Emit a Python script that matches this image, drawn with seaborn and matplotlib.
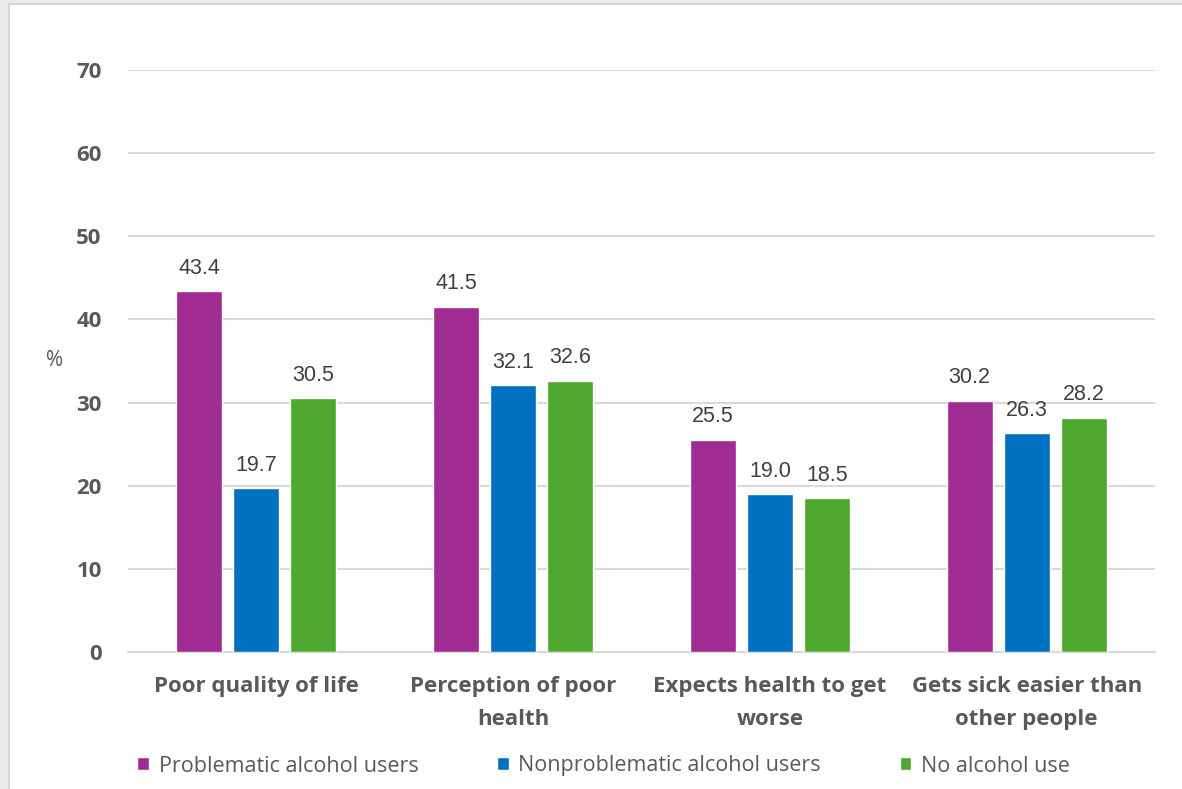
import matplotlib
matplotlib.use("Agg")
import matplotlib.pyplot as plt
import seaborn as sns
import pandas as pd
from matplotlib.patches import Rectangle

categories = ["Poor quality of life", "Perception of poor\nhealth",
              "Expects health to get\nworse", "Gets sick easier than\nother people"]
groups = ["Problematic alcohol users", "Nonproblematic alcohol users", "No alcohol use"]
problematic = [43.4, 41.5, 25.5, 30.2]
nonproblematic = [19.7, 32.1, 19.0, 26.3]
no_alcohol = [30.5, 32.6, 18.5, 28.2]
yticks = [0, 10, 20, 30, 40, 50, 60, 70]

colors = ["#A02B93", "#0070C0", "#4EA72E"]
text_gray = "#595959"
grid_gray = "#D9D9D9"

rows = []
for g, vals in zip(groups, [problematic, nonproblematic, no_alcohol]):
    for c, v in zip(categories, vals):
        rows.append({"category": c, "group": g, "value": v})
df = pd.DataFrame(rows)

sns.set_theme(style="white")
plt.rcParams["font.family"] = ["Open Sans", "DejaVu Sans"]

W, H = 1182, 789
fig = plt.figure(figsize=(W / 100, H / 100), dpi=100, facecolor="#EBEBEB")
fig.patches.append(Rectangle((9 / W, -0.05), 1.1, 1.05 - 4 / H, transform=fig.transFigure,
                             facecolor="white", edgecolor="#D6D6D6", linewidth=1.5, zorder=-5))

ax = fig.add_axes([128 / W, 1 - 652 / H, (1155 - 128) / W, (652 - 70) / H])
ax.set_facecolor("none")

sns.barplot(data=df, x="category", y="value", hue="group", hue_order=groups,
            palette=colors, width=0.666, gap=0.19, ax=ax, saturation=1,
            errorbar=None, zorder=3)

for cont in ax.containers:
    ax.bar_label(cont, fmt="%.1f", padding=9, fontsize=15.5, color="#404040",
                 family=["Liberation Sans", "DejaVu Sans"])

ax.set_ylim(0, 70)
ax.set_yticks(yticks)
ax.set_xlim(-0.5, 3.5)
ax.yaxis.grid(True, color=grid_gray, linewidth=1.5, zorder=0)
ax.set_axisbelow(True)
for s in ["top", "right", "left"]:
    ax.spines[s].set_visible(False)
ax.spines["bottom"].set_color(grid_gray)
ax.spines["bottom"].set_linewidth(1.5)

ax.tick_params(axis="y", length=0, pad=19, labelsize=16, labelcolor=text_gray)
ax.tick_params(axis="x", length=0, pad=17, labelsize=16, labelcolor=text_gray)
for lbl in ax.get_yticklabels() + ax.get_xticklabels():
    lbl.set_fontweight("bold")
for lbl in ax.get_xticklabels():
    lbl.set_linespacing(1.8)

ax.set_xlabel("")
ax.set_ylabel("%", rotation=0, fontsize=15, color=text_gray, va="center", ha="center")
ax.yaxis.set_label_coords(-(128 - 55) / 1027, (652 - 361) / 582)

leg = ax.legend(ncol=3, loc="center left", mode="expand",
                bbox_to_anchor=((137 - 128) / 1027, -(766 - 652) / 582, (1070 - 137) / 1027, 0.0),
                frameon=False, fontsize=15.5, handlelength=0.55, handleheight=0.55,
                handletextpad=0.45, borderpad=0, borderaxespad=0)
for t in leg.get_texts():
    t.set_color(text_gray)

fig.savefig("out.png", dpi=100, facecolor=fig.get_facecolor())
